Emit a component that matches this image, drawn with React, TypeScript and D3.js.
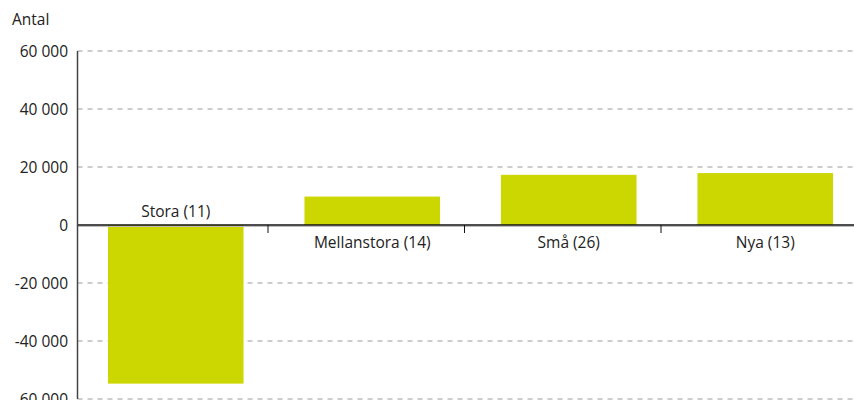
import React from "react";
import * as d3 from "d3";

const categories = ["Stora (11)", "Mellanstora (14)", "Små (26)", "Nya (13)"];
const values = [-54700, 9800, 17300, 17900];
const yTicks = [-60000, -40000, -20000, 0, 20000, 40000, 60000];
const yLabel = "Antal";

const W = 854;
const H = 400;
const left = 77.5;
const right = 77.5 + 4 * 196.5;
const top = 51;
const bottom = 399;

const fmt = (v: number) => {
  const s = d3.format(",")(Math.abs(v)).replace(/,/g, " ");
  return (v < 0 ? "-" : "") + s;
};

export default function App() {
  const x = d3.scaleBand<string>().domain(categories).range([left, right]).paddingInner(0.31).paddingOuter(0.155);
  const y = d3.scaleLinear().domain([-60000, 60000]).range([bottom, top]);
  const bandStep = x.step();
  const font = "'Open Sans', 'DejaVu Sans', sans-serif";
  const fs = 15.5;
  return (
    <svg width={W} height={H} style={{ position: "absolute", left: 0, top: 0 }} fontFamily={font}>
      <rect width={W} height={H} fill="#fff" />
      <text x={12} y={25} fontSize={fs} fill="#222">{yLabel}</text>
      {yTicks.map((t) => (
        <g key={t}>
          {t !== 0 && (
            <line x1={left} x2={W} y1={y(t)} y2={y(t)} stroke="#999" strokeWidth={1} strokeDasharray="5,5" />
          )}
          <text x={68} y={y(t) + 5.5} fontSize={fs} textAnchor="end" fill="#222">{fmt(t)}</text>
        </g>
      ))}
      {categories.map((c, i) => {
        const v = values[i];
        const y0 = y(0);
        const y1 = y(v);
        return (
          <rect key={c} x={x(c)} width={x.bandwidth()} y={Math.min(y0, y1)} height={Math.abs(y1 - y0)} fill="#ccd600" />
        );
      })}
      <line x1={left} x2={W} y1={y(0) + 1.5} y2={y(0) + 1.5} stroke="#bbb" strokeWidth={1} />
      <line x1={left} x2={W} y1={y(0)} y2={y(0)} stroke="#111" strokeWidth={1.5} />
      {categories.slice(1).map((c, i) => {
        const xt = left + (i + 1) * bandStep - 6;
        return <line key={c} x1={xt} x2={xt} y1={y(0)} y2={y(0) + 8} stroke="#111" strokeWidth={1} />;
      })}
      <line x1={left} x2={left} y1={top} y2={bottom} stroke="#444" strokeWidth={1.5} />
      {categories.map((c, i) => {
        const cx = (x(c) as number) + x.bandwidth() / 2;
        const neg = values[i] < 0;
        return (
          <text key={c} x={cx} y={neg ? y(0) - 8 : y(0) + 23} fontSize={fs} textAnchor="middle" fill="#222">{c}</text>
        );
      })}
    </svg>
  );
}
